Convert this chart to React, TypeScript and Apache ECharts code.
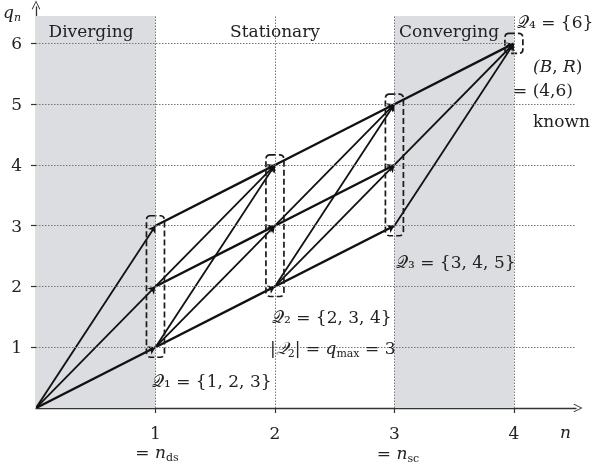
import React, { useEffect, useRef } from 'react';
import * as echarts from 'echarts';

// ---- data ----
const xTicks = [1, 2, 3, 4];
const yTicks = [1, 2, 3, 4, 5, 6];
const shadedRanges: [number, number][] = [[0, 1], [3, 4]];
const stageN = [1, 2, 3, 4];
const stageSets = [[1, 2, 3], [2, 3, 4], [3, 4, 5], [6]];
// [n_from, q_from, n_to, q_to]
const edges: [number, number, number, number][] = [
  [0, 0, 1, 1], [0, 0, 1, 2], [0, 0, 1, 3],
  [1, 1, 2, 2], [1, 1, 2, 3], [1, 1, 2, 4],
  [1, 2, 2, 3], [1, 2, 2, 4],
  [1, 3, 2, 4],
  [2, 2, 3, 3], [2, 2, 3, 4], [2, 2, 3, 5],
  [2, 3, 3, 4], [2, 3, 3, 5],
  [2, 4, 3, 5],
  [3, 3, 4, 6], [3, 4, 4, 6], [3, 5, 4, 6],
];
const regionLabels = ['Diverging', 'Stationary', 'Converging'];

const X_MAX = 4.52;
const Y_MAX = 6.6;
const REGION_TOP = 6.45;

const FONT = 'DejaVu Serif';
const INK = '#222';
const CHEVRON = 'path://M0,10 L5,0 L10,10 L9,10.6 L5,2.2 L1,10.6 Z';
const SUBDIGITS = ['₀', '₁', '₂', '₃', '₄', '₅', '₆', '₇', '₈', '₉'];

const rich = {
  Q: { fontFamily: FONT, fontSize: 17, fontStyle: 'italic', color: INK, lineHeight: 22 },
  i: { fontFamily: FONT, fontSize: 17, fontStyle: 'italic', color: INK, lineHeight: 22 },
  t: { fontFamily: FONT, fontSize: 17, color: INK, lineHeight: 22 },
  s: { fontFamily: FONT, fontSize: 11, color: INK, lineHeight: 10, verticalAlign: 'bottom' },
  si: { fontFamily: FONT, fontSize: 11, fontStyle: 'italic', color: INK, lineHeight: 10, verticalAlign: 'bottom' },
};

function txt(x: number, y: number, text: string, align: string = 'left', size = 17, useRich = true): any {
  const style: any = {
    text,
    fontFamily: FONT,
    fontSize: size,
    fill: INK,
    textAlign: align,
    textVerticalAlign: 'middle',
  };
  if (useRich) style.rich = rich;
  return { type: 'text', x, y, z: 100, style };
}

export default function App() {
  const ref = useRef<HTMLDivElement>(null);
  useEffect(() => {
    if (!ref.current) return;
    const chart = echarts.init(ref.current, undefined, { renderer: 'svg' });

    const hGrid = yTicks.map((q) => [
      { coord: [0, q] },
      { coord: [q === 6 ? 4 : X_MAX, q] },
    ]);
    const vGrid = xTicks.map((n) => [{ coord: [n, 0] }, { coord: [n, REGION_TOP] }]);
    const areas = shadedRanges.map(([a, b]) => [
      { xAxis: a, yAxis: 0 },
      { xAxis: b, yAxis: REGION_TOP },
    ]);

    const boxData = stageN.map((n, i) => [n, Math.min(...stageSets[i]), Math.max(...stageSets[i])]);

    const qLabel = (k: number, set: number[]) => `𝒬${SUBDIGITS[k]} = {${set.join(', ')}}`;

    chart.setOption({
      animation: false,
      grid: { left: 36, right: 26, top: 7, bottom: 58, containLabel: false, outerBoundsMode: 'none' },
      xAxis: {
        type: 'value',
        min: 0,
        max: X_MAX,
        interval: 1,
        axisLine: {
          lineStyle: { color: '#333', width: 1.3 },
          symbol: ['none', CHEVRON],
          symbolSize: [9, 9],
          symbolOffset: [0, 2],
        },
        axisTick: { show: true, length: 5, lineStyle: { color: '#333', width: 1.2 }, customValues: xTicks },
        axisLabel: { fontFamily: FONT, fontSize: 17, color: INK, margin: 16, customValues: xTicks },
        splitLine: { show: false },
      },
      yAxis: {
        type: 'value',
        min: 0,
        max: Y_MAX,
        interval: 1,
        axisLine: {
          show: true,
          lineStyle: { color: '#333', width: 1.3 },
          symbol: ['none', CHEVRON],
          symbolSize: [9, 9],
          symbolOffset: [0, 2],
        },
        axisTick: { show: true, length: 5, lineStyle: { color: '#333', width: 1.2 }, customValues: yTicks },
        axisLabel: { fontFamily: FONT, fontSize: 17, color: INK, margin: 14, customValues: yTicks },
        splitLine: { show: false },
      },
      series: [
        {
          type: 'line',
          data: [],
          z: 1,
          silent: true,
          markArea: {
            silent: true,
            itemStyle: { color: '#dcdde0' },
            data: areas,
          },
        },
        {
          type: 'line',
          data: [],
          z: 2,
          silent: true,
          markLine: {
            silent: true,
            symbol: ['none', 'none'],
            label: { show: false },
            lineStyle: { color: '#777', type: [1.5, 1.5], width: 1 },
            data: [...hGrid, ...vGrid],
          },
        },
        {
          type: 'lines',
          coordinateSystem: 'cartesian2d',
          z: 3,
          symbol: ['none', 'arrow'],
          symbolSize: 7,
          lineStyle: { color: '#111', opacity: 1 },
          data: edges.map((e) => ({
            coords: [[e[0], e[1]], [e[2], e[3]]],
            lineStyle: { width: e[3] - e[1] === 1 ? 2.4 : 1.8, color: '#111' },
          })),
        },
        {
          type: 'custom',
          z: 4,
          data: boxData,
          encode: { x: 0, y: [1, 2] },
          renderItem: (params: any, api: any) => {
            const n = api.value(0);
            const lo = api.value(1);
            const hi = api.value(2);
            const top = api.coord([n, hi]);
            const bot = api.coord([n, lo]);
            return {
              type: 'rect',
              shape: { x: top[0] - 9, y: top[1] - 10, width: 18, height: bot[1] - top[1] + 20, r: 4 },
              style: { fill: 'none', stroke: '#1a1a1a', lineWidth: 1.7, lineDash: [6, 3] },
            };
          },
        },
      ],
      graphic: [
        txt(91, 31, regionLabels[0], 'center', 17, false),
        txt(275, 31, regionLabels[1], 'center', 17, false),
        txt(449, 31, regionLabels[2], 'center', 17, false),
        txt(517, 22, qLabel(4, stageSets[3]), 'left', 17, false),
        txt(533, 66, '{i|(B}{t|, }{i|R}{t|)}'),
        txt(513, 90, '{t|= (4,6)}'),
        txt(533, 121, '{t|known}'),
        txt(396, 262, qLabel(3, stageSets[2]), 'left', 17, false),
        txt(272, 317, qLabel(2, stageSets[1]), 'left', 17, false),
        txt(270, 348, '{t||}{Q|𝒬}{s|2}{t|| = }{i|q}{s|max}{t| = 3}'),
        txt(152, 381, qLabel(1, stageSets[0]), 'left', 17, false),
        txt(157, 452, '{t|= }{i|n}{s|ds}', 'center'),
        txt(398, 453, '{t|= }{i|n}{s|sc}', 'center'),
        txt(560, 432, '{i|n}'),
        txt(3, 12, '{i|q}{si|n}'),
      ],
    });
    return () => chart.dispose();
  }, []);
  return <div ref={ref} style={{ position: 'fixed', left: 0, top: 0, width: 602, height: 466 }} />;
}
